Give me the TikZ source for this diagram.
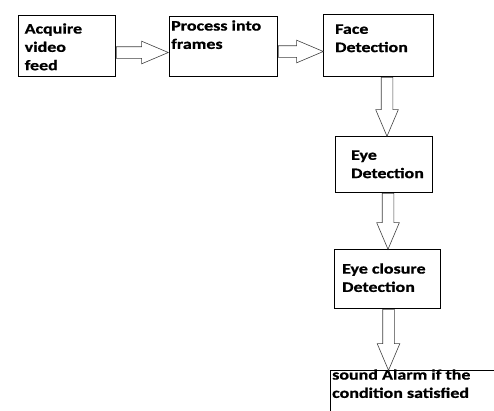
\documentclass[tikz,border=0pt]{standalone}
\usepackage{fontspec}
\setmainfont{Carlito}[FakeStretch=1.24, BoldFeatures={FakeBold=0.8}]
\usetikzlibrary{shapes.arrows,positioning}
\tikzstyle{stage} = [draw, line width=1.5pt, anchor=north west, inner sep=0pt]
\tikzstyle{stagetext} = [anchor=north west, align=left, inner sep=0pt,
  font=\bfseries\fontsize{14.5}{18.3}\selectfont, execute at begin node=\rule{0pt}{12.8pt}]
\tikzstyle{fatarrow} = [single arrow, draw=black!75, line width=0.6pt, inner sep=5.5pt,
  single arrow head extend=5.5pt, single arrow tip angle=46, anchor=tail]

\begin{document}
\begin{tikzpicture}[x=1pt,y=-1pt]
\clip (0,0) rectangle (494,410);
% stages
\node[stage, minimum width=97, minimum height=61] (acquire) at (17.5,14.5) {};
\node[stage, minimum width=108, minimum height=60] (process) at (168.5,15.5) {};
\node[stage, minimum width=110, minimum height=62] (face) at (322.5,13.5) {};
\node[stage, minimum width=97, minimum height=56] (eye) at (334.5,135.5) {};
\node[stage, minimum width=106, minimum height=59] (closure) at (333.5,248.5) {};
\node[stage, minimum width=200, minimum height=60] (alarm) at (329.5,369.5) {};
% texts
\node[stagetext] (acquiretext) at (24.5,23.2) {Acquire\\video\\feed};
\node[stagetext] (processtext) at (171,20.2) {Process into\\frames};
\node[stagetext] (facetext) at (335,24.2) {Face\\Detection};
\node[stagetext] (eyetext) at (351,150.2) {Eye\\Detection};
\node[stagetext] (closuretext) at (342,263.2) {Eye closure\\Detection};
\node[stagetext] (alarmtext) at (332,369.2) {sound Alarm if the\\condition satisfied};
% block arrows
\node[fatarrow, minimum height=52] (a1) at (acquire.east |- 0,52.5) {};
\node[fatarrow, minimum height=45] (a2) at (process.east |- 0,51.5) {};
\node[fatarrow, shape border rotate=270, minimum height=59] (a3) at (face.south -| 387,0) {};
\node[fatarrow, shape border rotate=270, minimum height=56] (a4) at (eye.south -| 388,0) {};
\node[fatarrow, shape border rotate=270, minimum height=61] (a5) at (closure.south -| 388.5,0) {};
\end{tikzpicture}
\end{document}
